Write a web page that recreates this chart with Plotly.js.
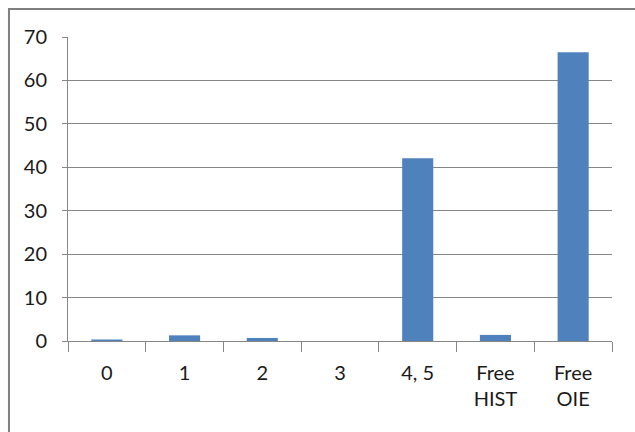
<!DOCTYPE html>
<html><head><meta charset="utf-8">
<script src="https://cdn.plot.ly/plotly-3.0.1.min.js"></script>
<style>html,body{margin:0;padding:0;background:#fff}#chart{width:635px;height:432px}</style>
</head><body><div id="chart"></div>
<script>
const categories = ["0", "1", "2", "3", "4, 5", "Free<br>HIST", "Free<br>OIE"];
const values = [0.35, 1.3, 0.7, 0, 42.1, 1.4, 66.5];
const yTicks = [0, 10, 20, 30, 40, 50, 60, 70];

const trace = {
  type: "bar",
  x: categories,
  y: values,
  marker: {color: "#4f81bd"},
  hoverinfo: "skip"
};

const layout = {
  width: 635, height: 432,
  margin: {l: 68, r: 23, t: 37, b: 91},
  paper_bgcolor: "#ffffff", plot_bgcolor: "#ffffff",
  bargap: 0.6,
  showlegend: false,
  font: {family: "Lato, 'Open Sans', sans-serif", size: 20, color: "#1a1a1a"},
  xaxis: {
    type: "category",
    showline: true, linecolor: "#868686", linewidth: 1,
    ticks: "outside", tickson: "boundaries", ticklen: 10, tickcolor: "#868686",
    ticklabelstandoff: 14,
    showgrid: false, zeroline: false
  },
  yaxis: {
    range: [0, 70],
    tickvals: yTicks,
    showline: true, linecolor: "#868686", linewidth: 1,
    ticks: "outside", ticklen: 5, tickcolor: "#868686",
    ticklabelstandoff: 11,
    showgrid: true, gridcolor: "#868686", gridwidth: 1,
    zeroline: false
  },
  shapes: [{
    type: "rect", xref: "paper", yref: "paper",
    x0: -0.1085, x1: 1.2, y0: -0.32, y1: 1.0925,
    line: {color: "#7f7f7f", width: 2}, fillcolor: "rgba(0,0,0,0)", layer: "below"
  }]
};

Plotly.newPlot("chart", [trace], layout, {displayModeBar: false, staticPlot: true});
</script></body></html>
